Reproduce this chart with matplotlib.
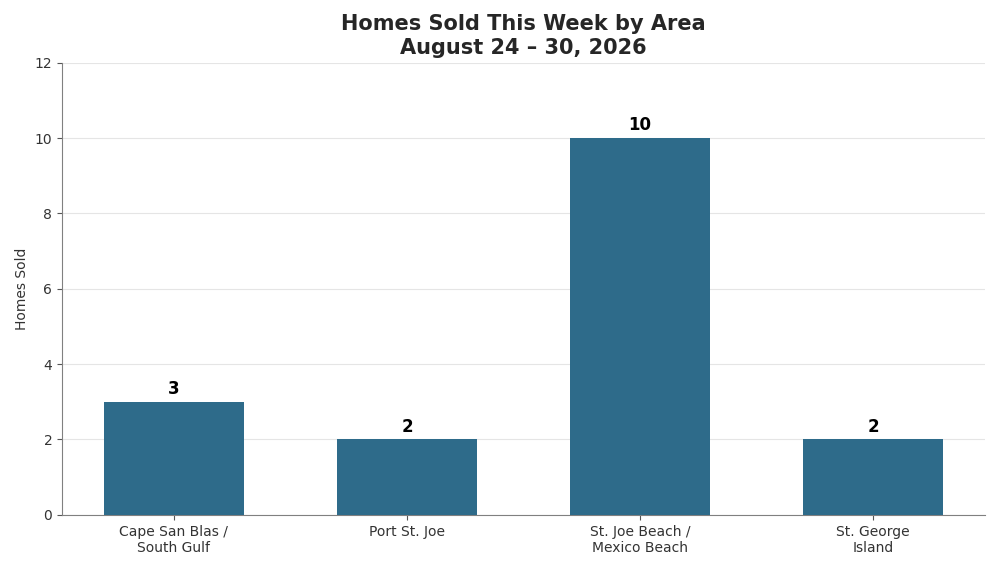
import matplotlib
matplotlib.use('Agg')
import matplotlib.pyplot as plt

areas = ['Cape San Blas /\nSouth Gulf', 'Port St. Joe', 'St. Joe Beach /\nMexico Beach', 'St. George\nIsland']
homes_sold = [3, 2, 10, 2]

fig, ax = plt.subplots(figsize=(10, 5.7), dpi=100)
fig.subplots_adjust(left=0.062, right=0.985, top=0.89, bottom=0.097)

x = list(range(len(areas)))
bars = ax.bar(x, homes_sold, width=0.6, color='#2E6B8A', zorder=3)

for b, v in zip(bars, homes_sold):
    ax.text(b.get_x() + b.get_width() / 2, v + 0.1, str(v), ha='center', va='bottom',
            fontsize=12, fontweight='bold', color='black')

ax.set_xticks(x)
ax.set_xticklabels(areas, fontsize=10, color='#333333')
ax.set_xlim(-0.48, len(areas) - 0.52)
ax.set_ylim(0, 12)
ax.set_yticks(range(0, 13, 2))
ax.tick_params(axis='y', labelsize=10, labelcolor='#333333', color='#555555')
ax.tick_params(axis='x', color='#555555', pad=4)
ax.set_ylabel('Homes Sold', fontsize=10, color='#333333')
ax.set_title('Homes Sold This Week by Area\nAugust 24 \u2013 30, 2026', fontsize=15,
             fontweight='bold', color='#262626', linespacing=1.2, pad=6.5)

ax.grid(axis='y', color='#e5e5e5', linewidth=0.8, zorder=0)
ax.spines['top'].set_visible(False)
ax.spines['right'].set_visible(False)
ax.spines['left'].set_color('#808080')
ax.spines['bottom'].set_color('#808080')

plt.savefig('out.png')
